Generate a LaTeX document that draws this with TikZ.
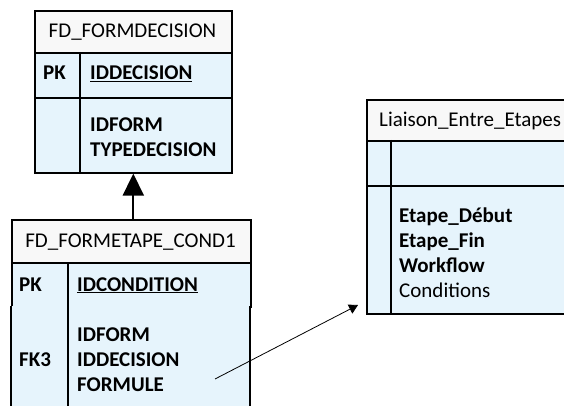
\documentclass[tikz,border=0pt]{standalone}
\usepackage{fontspec}
\setmainfont{Carlito}
\usetikzlibrary{arrows.meta}
\definecolor{rowblue}{HTML}{E6F4FC}
\definecolor{headgray}{HTML}{F8F8F8}
\tikzset{
  x=1pt, y=-1pt,
  cell/.style={draw=black, line width=1.6pt, inner sep=0pt},
  hdr/.style={cell, fill=headgray},
  row/.style={cell, fill=rowblue},
  txt/.style={anchor=base west, inner sep=0pt, font=\fontsize{21}{25}\selectfont},
  btxt/.style={txt, font=\fontsize{21}{25}\selectfont\bfseries},
  ctxt/.style={anchor=base, inner sep=0pt, font=\fontsize{21}{25}\selectfont},
  divider/.style={draw=black, line width=1.6pt},
}
\begin{document}
\begin{tikzpicture}
\useasboundingbox (0,0) rectangle (564,406);
% ---------- Box 1: FD_FORMDECISION
\node[hdr, minimum width=197pt, minimum height=42pt, anchor=north west] (h1) at (34,10) {};
\node[row, minimum width=197pt, minimum height=45pt, anchor=north west] (p1) at (34,52) {};
\node[row, minimum width=197pt, minimum height=75pt, anchor=north west] (b1) at (34,97) {};
\draw[divider] (80,52) -- (80,172);
\node[ctxt] (t1) at (132.5,38) {FD\_FORMDECISION};
\node[btxt] (pk1) at (43,80) {PK};
\node[btxt] (k1) at (90,80) {\underline{IDDECISION}};
\node[btxt] (a1) at (90,132) {IDFORM};
\node[btxt] (a2) at (90,157) {TYPEDECISION};
% ---------- Box 2: FD_FORMETAPE_COND1
\node[hdr, minimum width=239pt, minimum height=43pt, anchor=north west] (h2) at (11,219) {};
\node[row, minimum width=239pt, minimum height=44pt, anchor=north west] (p2) at (11,262) {};
\fill[rowblue] (11,306) rectangle (250,410);
\draw[divider] (11,306) -- (11,410);
\draw[divider] (250,306) -- (250,410);
\draw[divider] (68,262) -- (68,410);
\node[ctxt] (t2) at (130.5,247) {FD\_FORMETAPE\_COND1};
\node[btxt] (pk2) at (19,291) {PK};
\node[btxt] (k2) at (77,291) {\underline{IDCONDITION}};
\node[btxt] (fk3) at (19,366) {FK3};
\node[btxt] (c1) at (77,341) {IDFORM};
\node[btxt] (c2) at (77,366) {IDDECISION};
\node[btxt] (c3) at (77,391) {FORMULE};
% ---------- Box 3: Liaison_Entre_Etapes
\node[hdr, minimum width=240pt, minimum height=41pt, anchor=north west] (h3) at (366,99) {};
\node[row, minimum width=240pt, minimum height=45pt, anchor=north west] (p3) at (366,140) {};
\node[row, minimum width=240pt, minimum height=128pt, anchor=north west] (b3) at (366,185) {};
\draw[divider] (391,140) -- (391,313);
\node[txt] (t3) at (379,127) {Liaison\_Entre\_Etapes};
\node[btxt] (e1) at (399,222) {Etape\_Début};
\node[btxt] (e2) at (399,247) {Etape\_Fin};
\node[btxt] (e3) at (399,272) {Workflow};
\node[txt] (e4) at (399,297) {Conditions};
% ---------- Connectors
\draw[line width=2pt, -{Triangle[length=22pt,width=21pt]}] (h2.north -| b1.south) -- (b1.south);
\coordinate (s) at (215,379);
\coordinate (e) at (358,305);
\draw[line width=0.8pt, -{Triangle[length=9pt,width=10pt]}] (s) -- (e);
\end{tikzpicture}
\end{document}
